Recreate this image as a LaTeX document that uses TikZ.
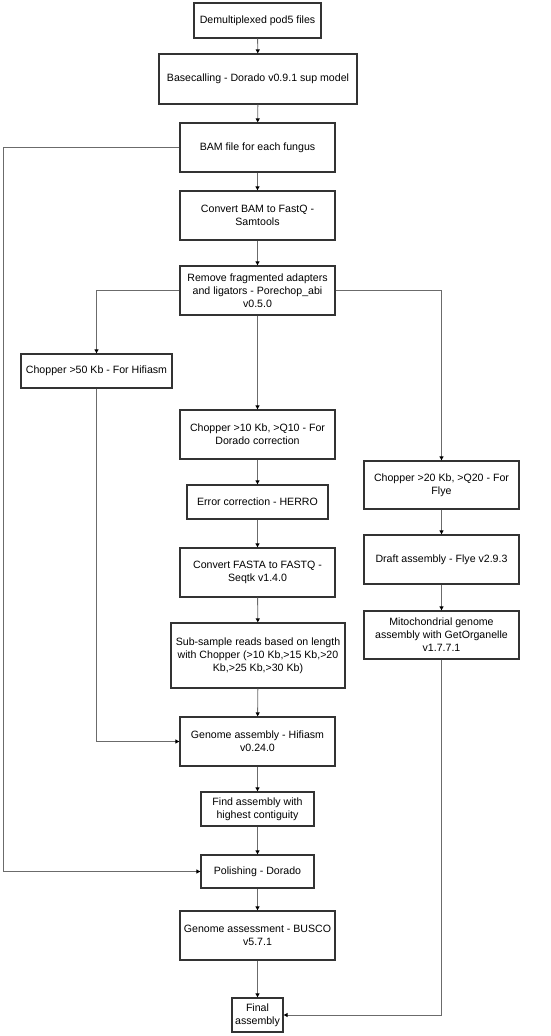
\documentclass[tikz,border=0pt]{standalone}
\usepackage{fontspec}
\setmainfont{Liberation Sans}
\usepackage{tikz}
\usetikzlibrary{arrows.meta,calc,positioning}
\definecolor{linegray}{gray}{0.42}
\definecolor{boxedge}{gray}{0.2}

\begin{document}
\begin{tikzpicture}[
        x=1pt, y=-1pt,
        font=\fontsize{10.6}{13}\selectfont,
        stepbox/.style={
            draw=boxedge,
            line width=1.3pt,
            minimum width=155pt,
            minimum height=49pt,
            align=center,
            inner sep=2pt
        },
        arrow/.style={
            -{Triangle[length=4pt,width=4pt,color=black]},
            draw=linegray,
            line width=0.9pt
        }
    ]

        \useasboundingbox (0,0) rectangle (550,1036);

        % Hauptstrang oben
        \node[stepbox, minimum width=127pt, minimum height=35pt] (demux) at (257.5,20.5)
            {Demultiplexed pod5 files};
        \node[stepbox, minimum width=198pt, minimum height=50pt] (basecall) at (258,79)
            {Basecalling - Dorado v0.9.1 sup model};
        \node[stepbox] (bam) at (257.5,147.5)
            {BAM file for each fungus};
        \node[stepbox] (tofastq) at (257.5,215.5)
            {Convert BAM to FastQ -\\Samtools};
        \node[stepbox] (porechop) at (257.5,290.5)
            {Remove fragmented adapters\\and ligators - Porechop\_abi\\v0.5.0};

        % Drei Filterzweige
        \node[stepbox, minimum width=151pt, minimum height=34pt] (chop50) at (96.5,371)
            {Chopper >50 Kb - For Hifiasm};
        \node[stepbox] (chop10) at (257.5,434.5)
            {Chopper >10 Kb, >Q10 - For\\Dorado correction};
        \node[stepbox, minimum height=48pt] (chop20) at (441.5,485)
            {Chopper >20 Kb, >Q20 - For\\Flye};

        % Mittlerer Zweig
        \node[stepbox, minimum width=141pt, minimum height=34pt] (herro) at (257.5,502)
            {Error correction - HERRO};
        \node[stepbox] (fasta2fastq) at (257.5,572.5)
            {Convert FASTA to FASTQ -\\Seqtk v1.4.0};
        \node[stepbox, minimum width=174pt, minimum height=65pt] (subsample) at (258,655.5)
            {Sub-sample reads based on length\\with Chopper (>10 Kb,>15 Kb,>20\\Kb,>25 Kb,>30 Kb)};

        % Rechter Zweig
        \node[stepbox] (draft) at (441.5,559.5)
            {Draft assembly - Flye v2.9.3};
        \node[stepbox, minimum height=48pt] (mito) at (441.5,635)
            {Mitochondrial genome\\assembly with GetOrganelle\\v1.7.7.1};

        % Assemblierung und Abschluss
        \node[stepbox] (hifiasm) at (257.5,741.5)
            {Genome assembly - Hifiasm\\v0.24.0};
        \node[stepbox, minimum width=113pt, minimum height=34pt] (contig) at (257.5,809)
            {Find assembly with\\highest contiguity};
        \node[stepbox, minimum width=113pt, minimum height=33pt] (polish) at (257.5,871.5)
            {Polishing - Dorado};
        \node[stepbox] (busco) at (257.5,935.5)
            {Genome assessment - BUSCO\\v5.7.1};
        \node[stepbox, minimum width=51pt, minimum height=34pt] (final) at (257.5,1015)
            {Final\\assembly};

        % Senkrechte Hauptlinie
        \draw[arrow] (demux) -- (basecall);
        \draw[arrow] (basecall) -- (bam);
        \draw[arrow] (bam) -- (tofastq);
        \draw[arrow] (tofastq) -- (porechop);
        \draw[arrow] (porechop) -- (chop10);
        \draw[arrow] (chop10) -- (herro);
        \draw[arrow] (herro) -- (fasta2fastq);
        \draw[arrow] (fasta2fastq) -- (subsample);
        \draw[arrow] (subsample) -- (hifiasm);
        \draw[arrow] (hifiasm) -- (contig);
        \draw[arrow] (contig) -- (polish);
        \draw[arrow] (polish) -- (busco);
        \draw[arrow] (busco) -- (final);

        % Verzweigung nach Porechop
        \draw[arrow] (porechop.west) -| (chop50.north);
        \draw[arrow] (porechop.east) -| (chop20.north);

        % Flye-Zweig
        \draw[arrow] (chop20) -- (draft);
        \draw[arrow] (draft) -- (mito);
        \draw[arrow] (mito.south) |- (final.east);

        % Hifiasm-Eingang von links
        \draw[arrow] (chop50.south) |- (hifiasm.west);

        % BAM direkt zum Polishing
        \coordinate (rail) at (3,147.5);
        \draw[arrow] (bam.west) -- (rail) |- (polish.west);

    \end{tikzpicture}
\end{document}
